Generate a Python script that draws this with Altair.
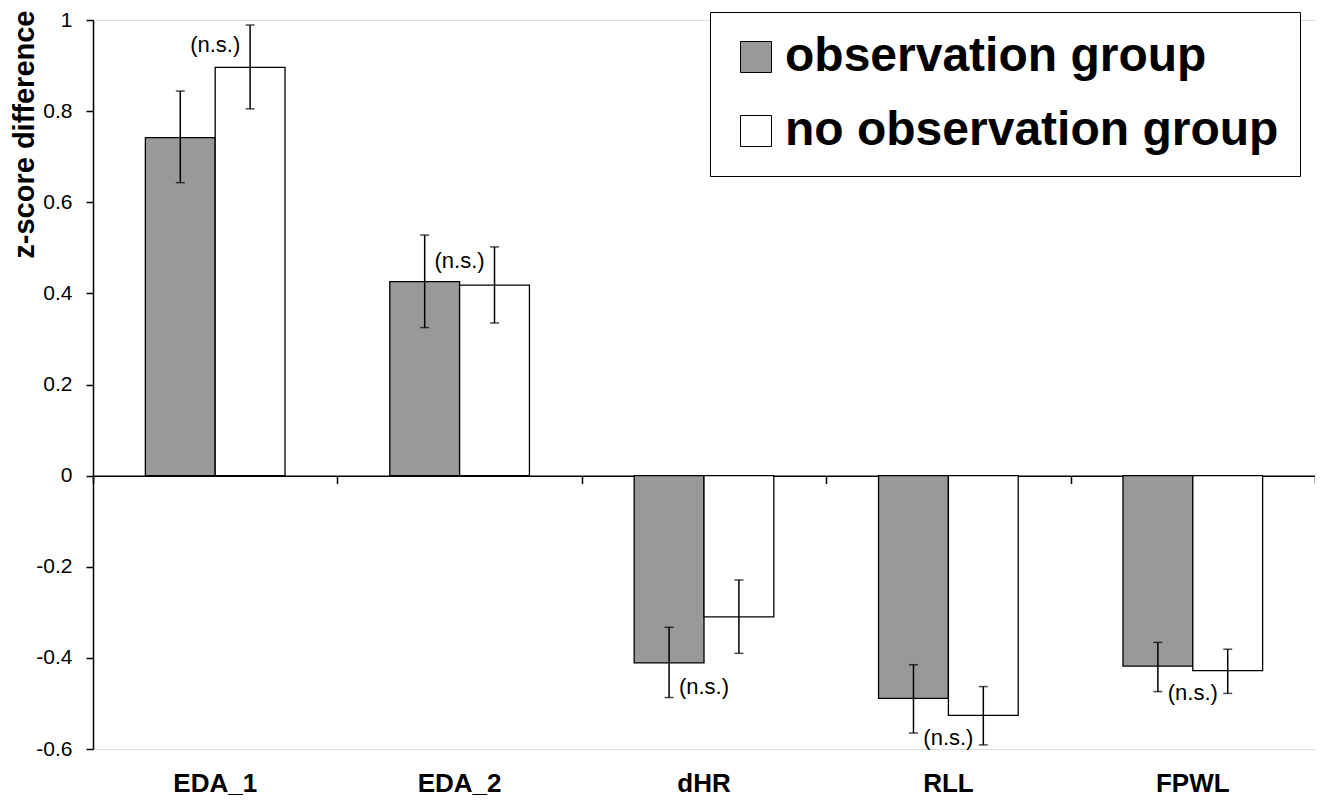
import altair as alt
import pandas as pd

categories = ["EDA_1", "EDA_2", "dHR", "RLL", "FPWL"]
groups = ["observation group", "no observation group"]

obs_mean = [0.742, 0.426, -0.411, -0.489, -0.418]
obs_lo = [0.643, 0.325, -0.487, -0.565, -0.474]
obs_hi = [0.844, 0.528, -0.333, -0.415, -0.366]

noobs_mean = [0.896, 0.418, -0.310, -0.526, -0.428]
noobs_lo = [0.805, 0.335, -0.390, -0.591, -0.478]
noobs_hi = [0.989, 0.502, -0.229, -0.463, -0.381]

ns_text = ["(n.s.)", "(n.s.)", "(n.s.)", "(n.s.)", "(n.s.)"]
ns_pos = [0.946, 0.472, -0.463, -0.576, -0.476]

y_ticks = [-0.6, -0.4, -0.2, 0, 0.2, 0.4, 0.6, 0.8, 1]

rows = []
for i, c in enumerate(categories):
    rows.append(dict(cat=c, group=groups[0], value=obs_mean[i], lo=obs_lo[i], hi=obs_hi[i]))
    rows.append(dict(cat=c, group=groups[1], value=noobs_mean[i], lo=noobs_lo[i], hi=noobs_hi[i]))
df = pd.DataFrame(rows)
ns_df = pd.DataFrame(dict(cat=categories, y=ns_pos, label=ns_text))

W, H = 1222, 729
ymin, ymax = -0.6, 1.0
zero_offset = -H * (0 - ymin) / (ymax - ymin)

FONT = "Liberation Sans"

yscale = alt.Scale(domain=[ymin, ymax], nice=False, zero=False)
xscale = alt.Scale(domain=categories, paddingInner=0, paddingOuter=0)
offscale = alt.Scale(domain=groups, paddingInner=0, paddingOuter=0.75)

yaxis = alt.Axis(
    values=y_ticks, labelExpr="'' + datum.value", title="z-score difference",
    grid=False, domainColor="black", domainWidth=1.5, tickColor="black", tickWidth=1.5,
    tickSize=7, labelFontSize=21, labelPadding=14, labelColor="black", labelFont=FONT,
    titleFontSize=29, titleFontWeight="bold", titleFont=FONT, titleColor="black",
    titleAngle=-90, titleAlign="right", titleBaseline="alphabetic",
    titleX=-60, titleY=-10,
)

axis_labels = alt.Axis(
    orient="bottom", title=None, domain=False, ticks=False, labelFontSize=26,
    labelFontWeight="bold", labelFont=FONT, labelColor="black", labelPadding=21,
    labelAngle=0, grid=False,
)
axis_zero = alt.Axis(
    orient="bottom", title=None, labels=False, domain=True, ticks=True,
    tickBand="extent", tickSize=8, offset=zero_offset, domainColor="black",
    domainWidth=1.5, tickColor="black", tickWidth=1.5, grid=False,
)

bars = alt.Chart(df).mark_bar(stroke="black", strokeWidth=1.3).encode(
    x=alt.X("cat:N", scale=xscale, axis=axis_labels, sort=categories),
    xOffset=alt.XOffset("group:N", scale=offscale, sort=groups),
    y=alt.Y("value:Q", scale=yscale, axis=yaxis),
    y2=alt.datum(0),
    color=alt.Color(
        "group:N",
        scale=alt.Scale(domain=groups, range=["#999999", "#ffffff"]),
        sort=groups,
        legend=alt.Legend(
            title=None, orient="none", legendX=617, legendY=-8,
            symbolType="square", symbolSize=961, symbolStrokeColor="black",
            symbolStrokeWidth=1, symbolOffset=1, labelFontSize=48,
            labelFontWeight="bold", labelFont=FONT, labelColor="black",
            labelLimit=1000, labelOffset=5, strokeColor="black", fillColor="white",
            padding=21, rowPadding=26,
        ),
    ),
)

err = alt.Chart(df).mark_rule(color="black", strokeWidth=1.5).encode(
    x=alt.X("cat:N", scale=xscale, axis=None, sort=categories),
    xOffset=alt.XOffset("group:N", scale=offscale, sort=groups),
    y=alt.Y("lo:Q", scale=yscale, axis=yaxis),
    y2="hi:Q",
)

cap_lo = alt.Chart(df).mark_tick(color="black", thickness=1.5, size=9).encode(
    x=alt.X("cat:N", scale=xscale, axis=None, sort=categories),
    xOffset=alt.XOffset("group:N", scale=offscale, sort=groups),
    y=alt.Y("lo:Q", scale=yscale, axis=yaxis),
)
cap_hi = alt.Chart(df).mark_tick(color="black", thickness=1.5, size=9).encode(
    x=alt.X("cat:N", scale=xscale, axis=None, sort=categories),
    xOffset=alt.XOffset("group:N", scale=offscale, sort=groups),
    y=alt.Y("hi:Q", scale=yscale, axis=yaxis),
)

ns = alt.Chart(ns_df).mark_text(fontSize=22, font=FONT, color="black").encode(
    x=alt.X("cat:N", scale=xscale, axis=axis_zero, sort=categories),
    y=alt.Y("y:Q", scale=yscale, axis=yaxis),
    text="label:N",
)

chart = alt.layer(bars, err, cap_lo, cap_hi, ns).resolve_axis(x="independent").properties(
    width=W, height=H,
    autosize=alt.AutoSizeParams(type="none"),
    padding={"left": 85, "top": 12, "right": 0, "bottom": 50},
).configure_view(stroke=None).configure(background="white")

chart.save("out.html", embed_options={"renderer": "svg", "actions": False})
